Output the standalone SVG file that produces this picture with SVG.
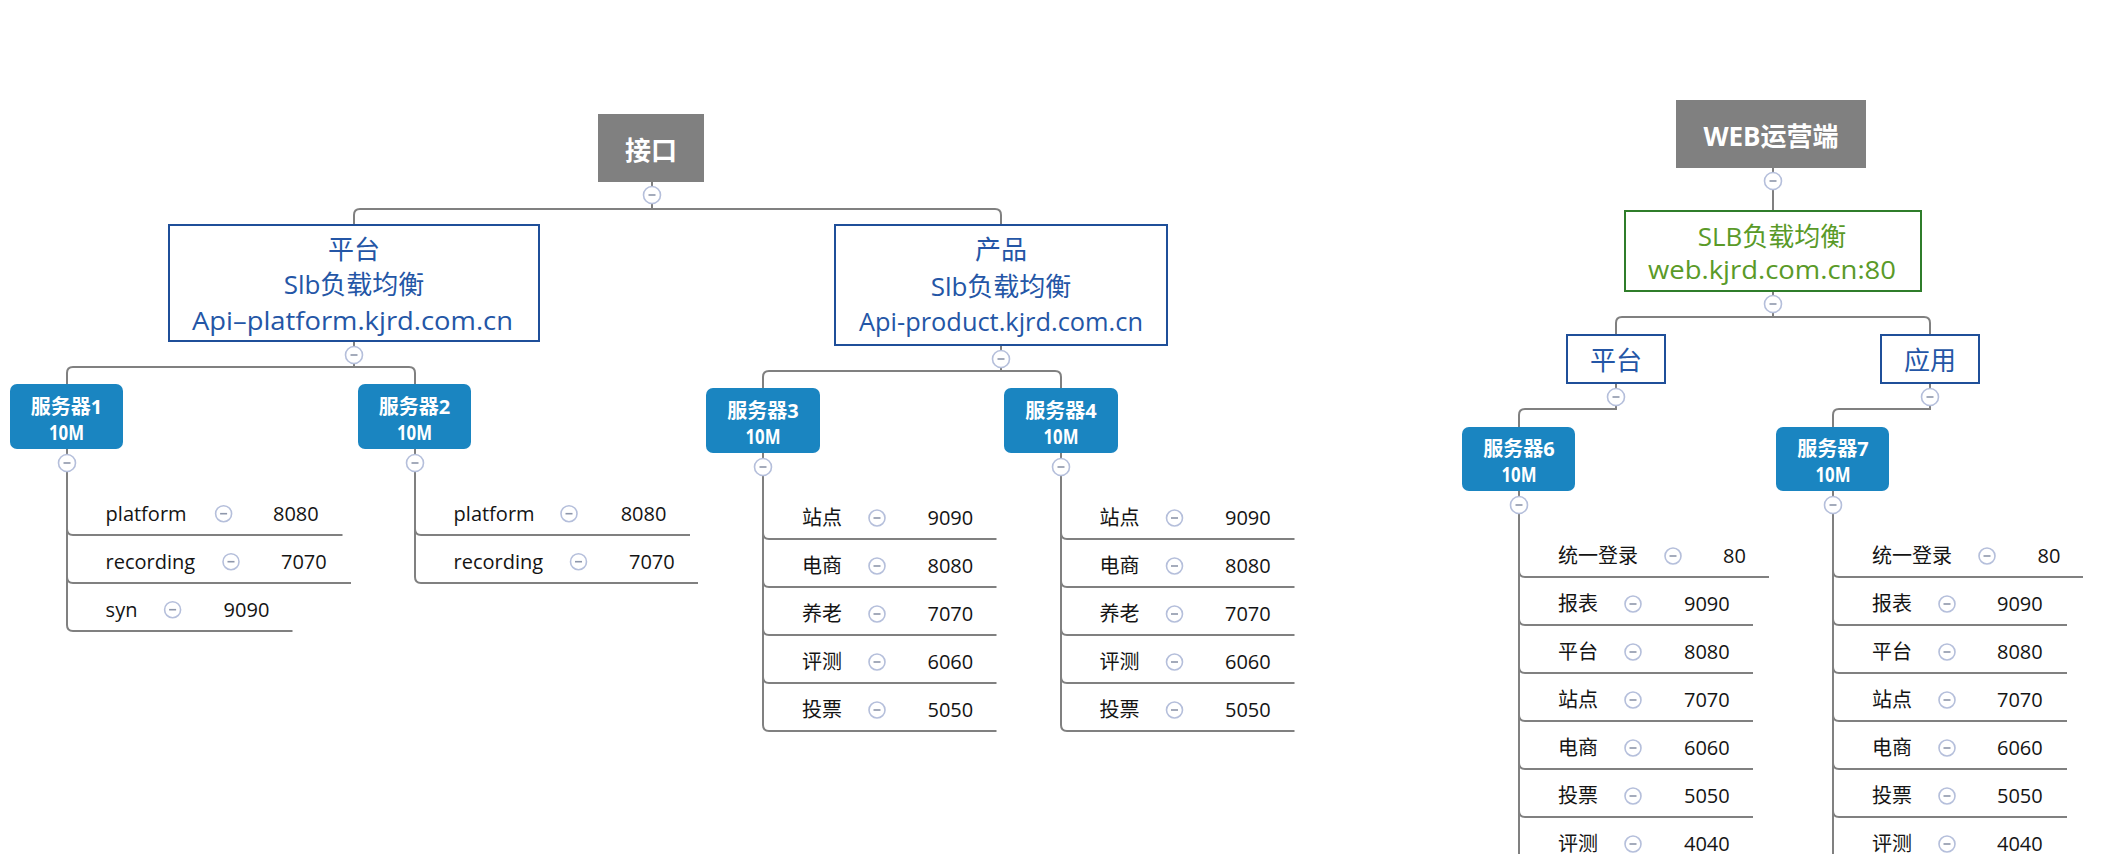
<svg xmlns="http://www.w3.org/2000/svg" xmlns:xlink="http://www.w3.org/1999/xlink" width="2122" height="854" viewBox="0 0 2122 854">
<style>
.conn{fill:none;stroke:#808080;stroke-width:2}
.tc{fill:#fff;stroke:#b5bfdb;stroke-width:1.6}
.tm{stroke:#8e97ab;stroke-width:1.6}
.root rect{fill:#808080}
.root text{fill:#fff;font-family:"Open Sans","Noto Sans CJK SC",sans-serif;font-size:26px;font-weight:bold;text-anchor:middle}
.lb rect{fill:#fff;stroke:#1f4f99;stroke-width:2}
.lb text{fill:#2456a6;font-family:"Open Sans","Noto Sans CJK SC",sans-serif;font-size:26px;text-anchor:middle}
.gb rect{fill:#fff;stroke:#2f7d2a;stroke-width:2}
.gb text{fill:#5a9a28;font-family:"Open Sans","Noto Sans CJK SC",sans-serif;font-size:26px;text-anchor:middle}
.srv rect{fill:#1a85c1}
.srv text{fill:#fff;font-family:"Open Sans","Noto Sans CJK SC",sans-serif;font-size:20px;font-weight:bold;text-anchor:middle}
.srv text.m{font-size:22px}
.row text{fill:#141414;font-family:"Open Sans","Noto Sans CJK SC",sans-serif;font-size:20px}
.row text.cj{font-size:20px}
</style>
<defs>
<g id="tog"><circle class="tc" r="8.5"/><path class="tm" d="M-3.5 0H3.5"/></g>
<g id="rtog"><circle class="tc" r="8"/><path class="tm" d="M-3.5 0H3.5"/></g>
</defs>
<rect width="2122" height="854" fill="#fff"/>

<g id="connectors">
<path class="conn" d="M652 182V209M354 225V215Q354 209 360 209H995Q1001 209 1001 215V225"/>
<path class="conn" d="M354 341V367M67 384V373Q67 367 73 367H409Q415 367 415 373V384"/>
<path class="conn" d="M1001 345V371M763 388V377Q763 371 769 371H1055Q1061 371 1061 377V388"/>
<path class="conn" d="M1773 168V211"/>
<path class="conn" d="M1773 291V317M1616 335V323Q1616 317 1622 317H1924Q1930 317 1930 323V335"/>
<path class="conn" d="M1616 383V409H1525Q1519 409 1519 415V427"/>
<path class="conn" d="M1930 383V409H1839Q1833 409 1833 415V427"/>
<path class="conn" d="M67 449V625M67 529Q67 535 73 535H342.5M67 577Q67 583 73 583H351M67 625Q67 631 73 631H292.5"/>
<path class="conn" d="M415 449V577M415 529Q415 535 421 535H690M415 577Q415 583 421 583H698"/>
<path class="conn" d="M763 453V725M763 533Q763 539 769 539H996.5M763 581Q763 587 769 587H996.5M763 629Q763 635 769 635H996.5M763 677Q763 683 769 683H996.5M763 725Q763 731 769 731H996.5"/>
<path class="conn" d="M1061 453V725M1061 533Q1061 539 1067 539H1294.5M1061 581Q1061 587 1067 587H1294.5M1061 629Q1061 635 1067 635H1294.5M1061 677Q1061 683 1067 683H1294.5M1061 725Q1061 731 1067 731H1294.5"/>
<path class="conn" d="M1519 491V854M1519 571Q1519 577 1525 577H1769M1519 619Q1519 625 1525 625H1753M1519 667Q1519 673 1525 673H1753M1519 715Q1519 721 1525 721H1753M1519 763Q1519 769 1525 769H1753M1519 811Q1519 817 1525 817H1753"/>
<path class="conn" d="M1833 491V854M1833 571Q1833 577 1839 577H2083M1833 619Q1833 625 1839 625H2067M1833 667Q1833 673 1839 673H2067M1833 715Q1833 721 1839 721H2067M1833 763Q1833 769 1839 769H2067M1833 811Q1833 817 1839 817H2067"/>
<use href="#tog" x="652" y="195"/>
<use href="#tog" x="354" y="355"/>
<use href="#tog" x="1001" y="359"/>
<use href="#tog" x="1773" y="181"/>
<use href="#tog" x="1773" y="304"/>
<use href="#tog" x="1616" y="397"/>
<use href="#tog" x="1930" y="397"/>
<use href="#tog" x="67" y="463"/>
<use href="#tog" x="415" y="463"/>
<use href="#tog" x="763" y="467"/>
<use href="#tog" x="1061" y="467"/>
<use href="#tog" x="1519" y="505"/>
<use href="#tog" x="1833" y="505"/>
</g>

<g id="n-jiekou" class="root"><rect x="598" y="114" width="106" height="68"/><text x="651" y="160">接口</text></g>
<g id="n-web" class="root"><rect x="1676" y="100" width="190" height="68"/><text x="1771" y="145.5">WEB运营端</text></g>

<g id="n-pingtai" class="lb"><rect x="169" y="225" width="370" height="116"/>
<text x="354" y="258.5">平台</text><text x="354" y="294">Slb负载均衡</text><text x="352.5" y="329.5" textLength="321" lengthAdjust="spacingAndGlyphs">Api–platform.kjrd.com.cn</text></g>
<g id="n-chanpin" class="lb"><rect x="835" y="225" width="332" height="120"/>
<text x="1001" y="259">产品</text><text x="1001" y="296">Slb负载均衡</text><text x="1001" y="331" textLength="284" lengthAdjust="spacingAndGlyphs">Api-product.kjrd.com.cn</text></g>
<g id="n-slb" class="gb"><rect x="1625" y="211" width="296" height="80"/>
<text x="1772" y="245.5">SLB负载均衡</text><text x="1772" y="279" textLength="248" lengthAdjust="spacingAndGlyphs">web.kjrd.com.cn:80</text></g>
<g id="n-web-pingtai" class="lb"><rect x="1567" y="335" width="98" height="48"/><text x="1616" y="369.5">平台</text></g>
<g id="n-web-yingyong" class="lb"><rect x="1881" y="335" width="98" height="48"/><text x="1930" y="369.5">应用</text></g>

<g id="n-srv1" class="srv"><rect x="10" y="384" width="113" height="65" rx="7"/><text x="66.5" y="414">服务器1</text><text class="m" x="66.5" y="440" textLength="35" lengthAdjust="spacingAndGlyphs">10M</text></g>
<g id="n-srv2" class="srv"><rect x="358" y="384" width="113" height="65" rx="7"/><text x="414.5" y="414">服务器2</text><text class="m" x="414.5" y="440" textLength="35" lengthAdjust="spacingAndGlyphs">10M</text></g>
<g id="n-srv3" class="srv"><rect x="706" y="388" width="114" height="65" rx="7"/><text x="763" y="418">服务器3</text><text class="m" x="763" y="444" textLength="35" lengthAdjust="spacingAndGlyphs">10M</text></g>
<g id="n-srv4" class="srv"><rect x="1004" y="388" width="114" height="65" rx="7"/><text x="1061" y="418">服务器4</text><text class="m" x="1061" y="444" textLength="35" lengthAdjust="spacingAndGlyphs">10M</text></g>
<g id="n-srv6" class="srv"><rect x="1462" y="427" width="113" height="64" rx="7"/><text x="1519" y="456">服务器6</text><text class="m" x="1519" y="482" textLength="35" lengthAdjust="spacingAndGlyphs">10M</text></g>
<g id="n-srv7" class="srv"><rect x="1776" y="427" width="113" height="64" rx="7"/><text x="1833" y="456">服务器7</text><text class="m" x="1833" y="482" textLength="35" lengthAdjust="spacingAndGlyphs">10M</text></g>

<g id="rows-srv1" class="row">
<text x="105.6" y="520.7">platform</text><use href="#rtog" x="223.6" y="513.7"/><text x="273" y="520.7">8080</text>
<text x="105.6" y="568.7">recording</text><use href="#rtog" x="231" y="561.7"/><text x="281" y="568.7">7070</text>
<text x="105.6" y="616.7">syn</text><use href="#rtog" x="172.6" y="609.7"/><text x="223.6" y="616.7">9090</text>
</g>
<g id="rows-srv2" class="row">
<text x="453.6" y="520.7">platform</text><use href="#rtog" x="569" y="513.7"/><text x="620.7" y="520.7">8080</text>
<text x="453.6" y="568.7">recording</text><use href="#rtog" x="578.5" y="561.7"/><text x="629" y="568.7">7070</text>
</g>
<g id="rows-srv3" class="row">
<text class="cj" x="802" y="525">站点</text><use href="#rtog" x="877" y="518"/><text x="927.5" y="525">9090</text>
<text class="cj" x="802" y="573">电商</text><use href="#rtog" x="877" y="566"/><text x="927.5" y="573">8080</text>
<text class="cj" x="802" y="621">养老</text><use href="#rtog" x="877" y="614"/><text x="927.5" y="621">7070</text>
<text class="cj" x="802" y="669">评测</text><use href="#rtog" x="877" y="662"/><text x="927.5" y="669">6060</text>
<text class="cj" x="802" y="717">投票</text><use href="#rtog" x="877" y="710"/><text x="927.5" y="717">5050</text>
</g>
<g id="rows-srv4" class="row">
<text class="cj" x="1099.6" y="525">站点</text><use href="#rtog" x="1174.5" y="518"/><text x="1225" y="525">9090</text>
<text class="cj" x="1099.6" y="573">电商</text><use href="#rtog" x="1174.5" y="566"/><text x="1225" y="573">8080</text>
<text class="cj" x="1099.6" y="621">养老</text><use href="#rtog" x="1174.5" y="614"/><text x="1225" y="621">7070</text>
<text class="cj" x="1099.6" y="669">评测</text><use href="#rtog" x="1174.5" y="662"/><text x="1225" y="669">6060</text>
<text class="cj" x="1099.6" y="717">投票</text><use href="#rtog" x="1174.5" y="710"/><text x="1225" y="717">5050</text>
</g>
<g id="rows-srv6" class="row">
<text class="cj" x="1558" y="563">统一登录</text><use href="#rtog" x="1673" y="556"/><text x="1723" y="563">80</text>
<text class="cj" x="1558" y="611">报表</text><use href="#rtog" x="1633" y="604"/><text x="1684" y="611">9090</text>
<text class="cj" x="1558" y="659">平台</text><use href="#rtog" x="1633" y="652"/><text x="1684" y="659">8080</text>
<text class="cj" x="1558" y="707">站点</text><use href="#rtog" x="1633" y="700"/><text x="1684" y="707">7070</text>
<text class="cj" x="1558" y="755">电商</text><use href="#rtog" x="1633" y="748"/><text x="1684" y="755">6060</text>
<text class="cj" x="1558" y="803">投票</text><use href="#rtog" x="1633" y="796"/><text x="1684" y="803">5050</text>
<text class="cj" x="1558" y="851">评测</text><use href="#rtog" x="1633" y="844"/><text x="1684" y="851">4040</text>
</g>
<g id="rows-srv7" class="row">
<text class="cj" x="1872" y="563">统一登录</text><use href="#rtog" x="1987" y="556"/><text x="2037.6" y="563">80</text>
<text class="cj" x="1872" y="611">报表</text><use href="#rtog" x="1947" y="604"/><text x="1997" y="611">9090</text>
<text class="cj" x="1872" y="659">平台</text><use href="#rtog" x="1947" y="652"/><text x="1997" y="659">8080</text>
<text class="cj" x="1872" y="707">站点</text><use href="#rtog" x="1947" y="700"/><text x="1997" y="707">7070</text>
<text class="cj" x="1872" y="755">电商</text><use href="#rtog" x="1947" y="748"/><text x="1997" y="755">6060</text>
<text class="cj" x="1872" y="803">投票</text><use href="#rtog" x="1947" y="796"/><text x="1997" y="803">5050</text>
<text class="cj" x="1872" y="851">评测</text><use href="#rtog" x="1947" y="844"/><text x="1997" y="851">4040</text>
</g>
</svg>
